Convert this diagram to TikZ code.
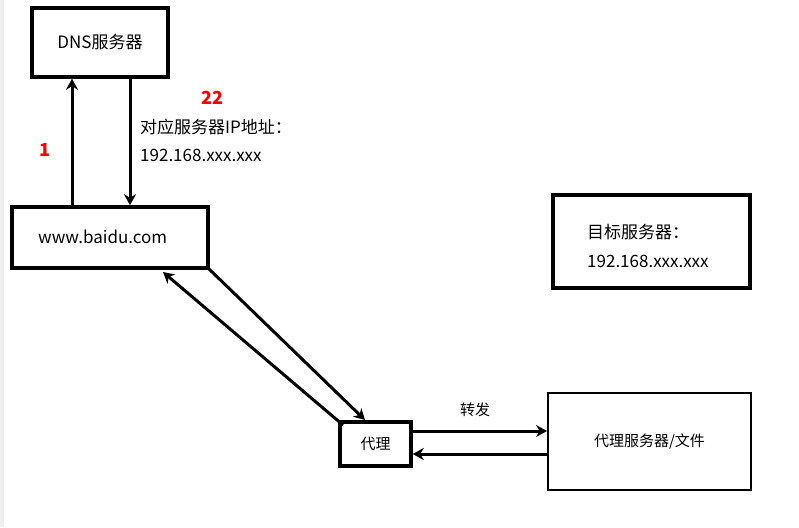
\documentclass[tikz,border=0pt]{standalone}
\usepackage{fontspec}
\setmainfont{Noto Sans CJK SC}
\usetikzlibrary{arrows.meta}
\begin{document}
\begin{tikzpicture}[x=1pt,y=-1pt,
  thickbox/.style={draw,line width=3.5pt},
  thinbox/.style={draw,line width=2pt},
  conn/.style={line width=3pt,-{Stealth[length=11pt,width=12pt]}},
  lbl/.style={font=\fontsize{17}{19}\selectfont,anchor=west,inner sep=0pt},
  redtxt/.style={text=red,font=\fontsize{18}{20}\selectfont\itshape\bfseries,inner sep=0pt}]
\useasboundingbox (0,0) rectangle (799,527);
\fill[gray!12] (0,0) rectangle (4,527);
\node[thickbox,minimum width=136pt,minimum height=69pt,font=\fontsize{17}{19}\selectfont] (dns) at (100,42.5) {DNS服务器};
\node[thickbox,minimum width=196pt,minimum height=61pt] (www) at (110,237.5) {};
\node[lbl] at (38,237) {www.baidu.com};
\node[thickbox,minimum width=197pt,minimum height=93pt] (tgt) at (651.5,241.5) {};
\node[lbl] at (587,232) {目标服务器：};
\node[lbl] at (587,261) {192.168.xxx.xxx};
\node[thickbox,minimum width=71pt,minimum height=44pt,font=\fontsize{15}{17}\selectfont] (px) at (375.5,444) {代理};
\node[thinbox,minimum width=203pt,minimum height=97pt,font=\fontsize{15}{17}\selectfont] (ps) at (649.5,441.5) {代理服务器/文件};
\node[lbl] at (140,127) {对应服务器IP地址：};
\node[lbl] at (140,155) {192.168.xxx.xxx};
\node[redtxt] at (45,150) {1};
\node[redtxt] at (212,98) {22};
\node[font=\fontsize{15}{17}\selectfont] at (475,410) {转发};
\coordinate (a1) at (72,207);
\draw[conn] (www.north -| a1) -- (dns.south -| a1);
\coordinate (a2) at (130,77);
\draw[conn] (dns.south -| a2) -- (www.north -| a2);
\coordinate (d1) at (343,425);
\coordinate (d2) at (163,272);
\draw[conn] (d1) -- (d2);
\coordinate (d3) at (208,268);
\coordinate (d4) at (365,420);
\draw[conn] (d3) -- (d4);
\coordinate (h1) at (411,431);
\draw[conn] (h1) -- (h1 -| ps.west);
\coordinate (h2) at (548,454);
\draw[conn] (h2) -- (h2 -| px.east);
\end{tikzpicture}
\end{document}
